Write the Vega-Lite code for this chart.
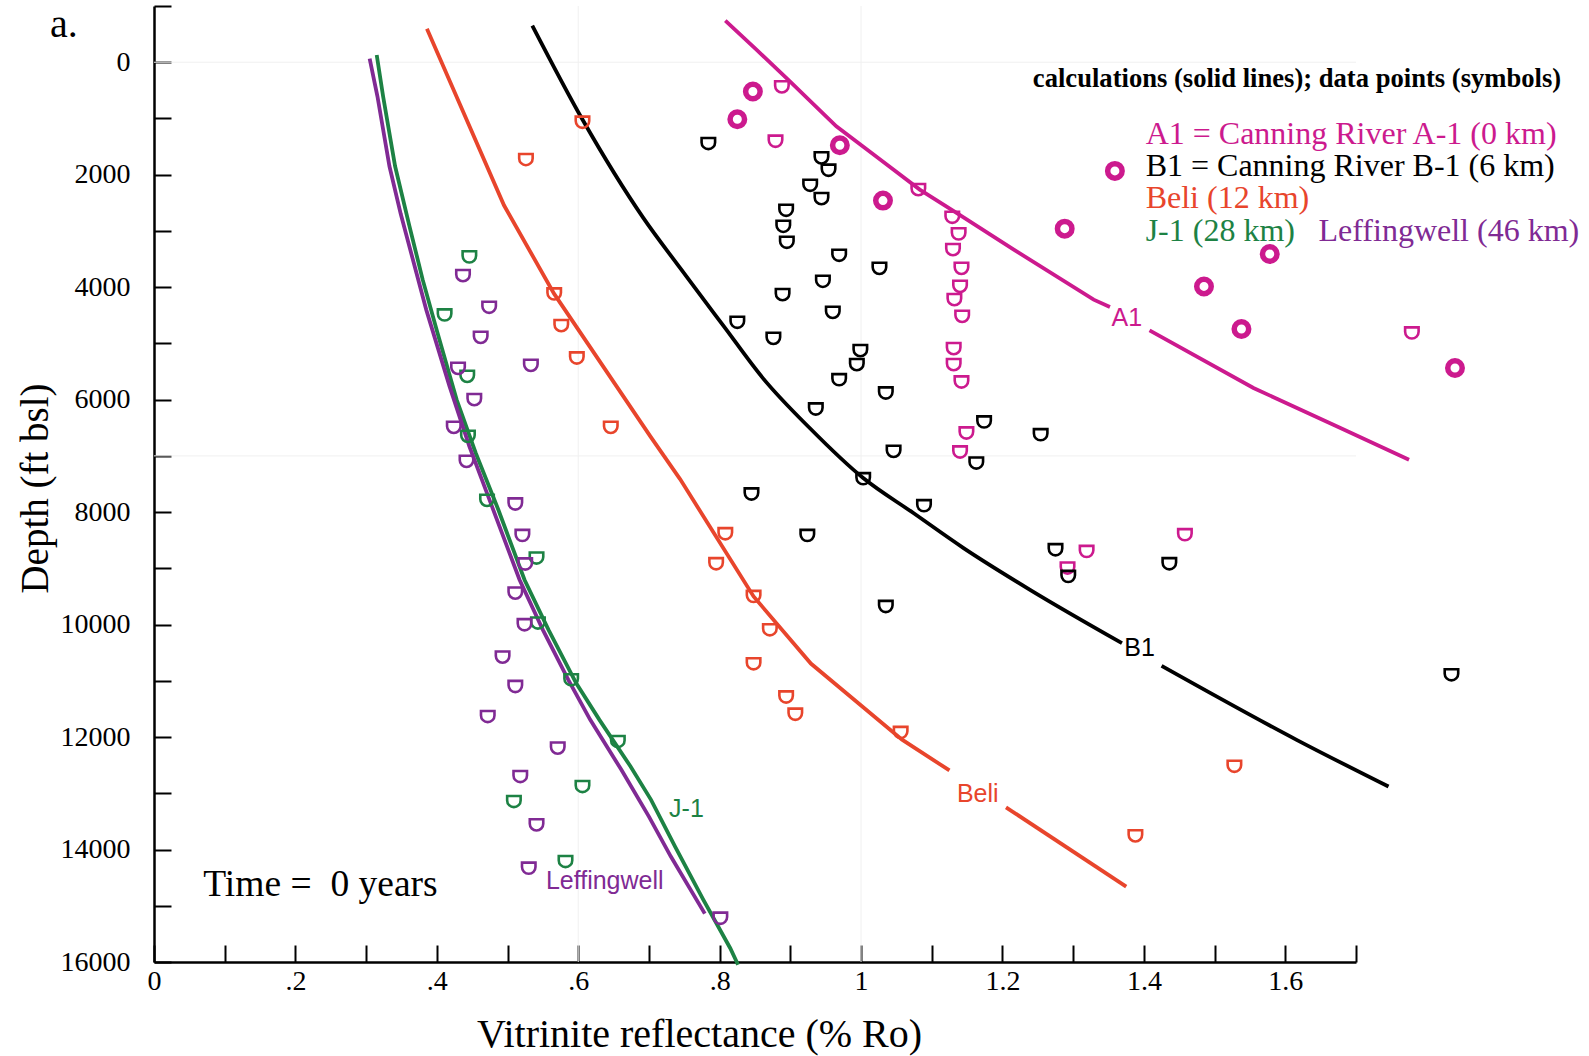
{
  "$schema": "https://vega.github.io/schema/vega-lite/v6.json",
  "width": 1202,
  "height": 956,
  "autosize": {"type": "none"},
  "padding": {"left": 154, "top": 6, "right": 233, "bottom": 94},
  "background": "white",
  "config": {"view": {"stroke": null}},
  "datasets": {
    "grid": [
      {"x": 0.6, "x2": 0.6, "d": -1000, "d2": 16000},
      {"x": 1.0, "x2": 1.0, "d": -1000, "d2": 16000},
      {"x": 0, "x2": 1.7, "d": 0, "d2": 0},
      {"x": 0, "x2": 1.7, "d": 7000, "d2": 7000}
    ],
    "lines": [
      {"s": "A1", "seg": "A1a", "x": 0.808, "d": -740},
      {"s": "A1", "seg": "A1a", "x": 0.852, "d": -226},
      {"s": "A1", "seg": "A1a", "x": 0.899, "d": 338},
      {"s": "A1", "seg": "A1a", "x": 0.965, "d": 1139},
      {"s": "A1", "seg": "A1a", "x": 1.027, "d": 1731},
      {"s": "A1", "seg": "A1a", "x": 1.083, "d": 2265},
      {"s": "A1", "seg": "A1a", "x": 1.135, "d": 2680},
      {"s": "A1", "seg": "A1a", "x": 1.216, "d": 3332},
      {"s": "A1", "seg": "A1a", "x": 1.329, "d": 4222},
      {"s": "A1", "seg": "A1a", "x": 1.352, "d": 4351},
      {"s": "A1", "seg": "A1b", "x": 1.408, "d": 4768},
      {"s": "A1", "seg": "A1b", "x": 1.555, "d": 5793},
      {"s": "A1", "seg": "A1b", "x": 1.678, "d": 6504},
      {"s": "A1", "seg": "A1b", "x": 1.775, "d": 7068},
      {"s": "B1", "seg": "B1a", "x": 0.535, "d": -653},
      {"s": "B1", "seg": "B1a", "x": 0.606, "d": 1019},
      {"s": "B1", "seg": "B1a", "x": 0.692, "d": 2768},
      {"s": "B1", "seg": "B1a", "x": 0.744, "d": 3658},
      {"s": "B1", "seg": "B1a", "x": 0.806, "d": 4697},
      {"s": "B1", "seg": "B1a", "x": 0.862, "d": 5630},
      {"s": "B1", "seg": "B1a", "x": 0.927, "d": 6500},
      {"s": "B1", "seg": "B1a", "x": 1.003, "d": 7394},
      {"s": "B1", "seg": "B1a", "x": 1.074, "d": 8016},
      {"s": "B1", "seg": "B1a", "x": 1.145, "d": 8639},
      {"s": "B1", "seg": "B1a", "x": 1.239, "d": 9381},
      {"s": "B1", "seg": "B1a", "x": 1.369, "d": 10329},
      {"s": "B1", "seg": "B1b", "x": 1.425, "d": 10733},
      {"s": "B1", "seg": "B1b", "x": 1.616, "d": 12049},
      {"s": "B1", "seg": "B1b", "x": 1.746, "d": 12880},
      {"s": "Beli", "seg": "Ba", "x": 0.386, "d": -594},
      {"s": "Beli", "seg": "Ba", "x": 0.495, "d": 2544},
      {"s": "Beli", "seg": "Ba", "x": 0.566, "d": 4120},
      {"s": "Beli", "seg": "Ba", "x": 0.702, "d": 6653},
      {"s": "Beli", "seg": "Ba", "x": 0.744, "d": 7412},
      {"s": "Beli", "seg": "Ba", "x": 0.848, "d": 9500},
      {"s": "Beli", "seg": "Ba", "x": 0.929, "d": 10693},
      {"s": "Beli", "seg": "Ba", "x": 1.058, "d": 12046},
      {"s": "Beli", "seg": "Ba", "x": 1.125, "d": 12594},
      {"s": "Beli", "seg": "Bb", "x": 1.205, "d": 13249},
      {"s": "Beli", "seg": "Bb", "x": 1.375, "d": 14660},
      {"s": "J-1", "seg": "J", "x": 0.315, "d": -128},
      {"s": "J-1", "seg": "J", "x": 0.324, "d": 605},
      {"s": "J-1", "seg": "J", "x": 0.341, "d": 1850},
      {"s": "J-1", "seg": "J", "x": 0.361, "d": 2900},
      {"s": "J-1", "seg": "J", "x": 0.380, "d": 3866},
      {"s": "J-1", "seg": "J", "x": 0.401, "d": 4814},
      {"s": "J-1", "seg": "J", "x": 0.428, "d": 6000},
      {"s": "J-1", "seg": "J", "x": 0.455, "d": 6949},
      {"s": "J-1", "seg": "J", "x": 0.487, "d": 7958},
      {"s": "J-1", "seg": "J", "x": 0.524, "d": 9203},
      {"s": "J-1", "seg": "J", "x": 0.558, "d": 10093},
      {"s": "J-1", "seg": "J", "x": 0.597, "d": 11040},
      {"s": "J-1", "seg": "J", "x": 0.630, "d": 11694},
      {"s": "J-1", "seg": "J", "x": 0.674, "d": 12524},
      {"s": "J-1", "seg": "J", "x": 0.703, "d": 13117},
      {"s": "J-1", "seg": "J", "x": 0.737, "d": 13947},
      {"s": "J-1", "seg": "J", "x": 0.777, "d": 14895},
      {"s": "J-1", "seg": "J", "x": 0.815, "d": 15755},
      {"s": "J-1", "seg": "J", "x": 0.826, "d": 16050},
      {"s": "Leffingwell", "seg": "L", "x": 0.305, "d": -66},
      {"s": "Leffingwell", "seg": "L", "x": 0.316, "d": 605},
      {"s": "Leffingwell", "seg": "L", "x": 0.333, "d": 1850},
      {"s": "Leffingwell", "seg": "L", "x": 0.349, "d": 2700},
      {"s": "Leffingwell", "seg": "L", "x": 0.385, "d": 4399},
      {"s": "Leffingwell", "seg": "L", "x": 0.418, "d": 5764},
      {"s": "Leffingwell", "seg": "L", "x": 0.446, "d": 6831},
      {"s": "Leffingwell", "seg": "L", "x": 0.478, "d": 7899},
      {"s": "Leffingwell", "seg": "L", "x": 0.517, "d": 9203},
      {"s": "Leffingwell", "seg": "L", "x": 0.550, "d": 10093},
      {"s": "Leffingwell", "seg": "L", "x": 0.586, "d": 10982},
      {"s": "Leffingwell", "seg": "L", "x": 0.617, "d": 11694},
      {"s": "Leffingwell", "seg": "L", "x": 0.661, "d": 12583},
      {"s": "Leffingwell", "seg": "L", "x": 0.700, "d": 13414},
      {"s": "Leffingwell", "seg": "L", "x": 0.731, "d": 14125},
      {"s": "Leffingwell", "seg": "L", "x": 0.779, "d": 15140}
    ],
    "dpoints": [
      {"s": "A1", "x": 0.888, "d": 438}, {"s": "A1", "x": 0.879, "d": 1405}, {"s": "A1", "x": 1.081, "d": 2265},
      {"s": "A1", "x": 1.129, "d": 2757}, {"s": "A1", "x": 1.138, "d": 3053}, {"s": "A1", "x": 1.130, "d": 3332},
      {"s": "A1", "x": 1.142, "d": 3665}, {"s": "A1", "x": 1.140, "d": 3985}, {"s": "A1", "x": 1.132, "d": 4222},
      {"s": "A1", "x": 1.143, "d": 4519}, {"s": "A1", "x": 1.131, "d": 5093}, {"s": "A1", "x": 1.131, "d": 5378},
      {"s": "A1", "x": 1.142, "d": 5686}, {"s": "A1", "x": 1.149, "d": 6593}, {"s": "A1", "x": 1.140, "d": 6931},
      {"s": "A1", "x": 1.319, "d": 8699}, {"s": "A1", "x": 1.292, "d": 8995}, {"s": "A1", "x": 1.458, "d": 8402},
      {"s": "A1", "x": 1.779, "d": 4814},
      {"s": "B1", "x": 0.784, "d": 1446}, {"s": "B1", "x": 0.944, "d": 1701}, {"s": "B1", "x": 0.954, "d": 1921},
      {"s": "B1", "x": 0.928, "d": 2188}, {"s": "B1", "x": 0.944, "d": 2425}, {"s": "B1", "x": 0.894, "d": 2633},
      {"s": "B1", "x": 0.890, "d": 2918}, {"s": "B1", "x": 0.895, "d": 3202}, {"s": "B1", "x": 0.969, "d": 3433},
      {"s": "B1", "x": 1.026, "d": 3665}, {"s": "B1", "x": 0.946, "d": 3896}, {"s": "B1", "x": 0.889, "d": 4133},
      {"s": "B1", "x": 0.960, "d": 4448}, {"s": "B1", "x": 0.825, "d": 4625}, {"s": "B1", "x": 0.876, "d": 4910},
      {"s": "B1", "x": 0.999, "d": 5129}, {"s": "B1", "x": 0.994, "d": 5378}, {"s": "B1", "x": 0.969, "d": 5645},
      {"s": "B1", "x": 1.035, "d": 5882}, {"s": "B1", "x": 0.936, "d": 6166}, {"s": "B1", "x": 1.174, "d": 6397},
      {"s": "B1", "x": 1.254, "d": 6623}, {"s": "B1", "x": 1.046, "d": 6920}, {"s": "B1", "x": 1.163, "d": 7127},
      {"s": "B1", "x": 1.003, "d": 7406}, {"s": "B1", "x": 0.845, "d": 7678}, {"s": "B1", "x": 1.089, "d": 7886},
      {"s": "B1", "x": 0.924, "d": 8415}, {"s": "B1", "x": 1.275, "d": 8669}, {"s": "B1", "x": 1.293, "d": 9144},
      {"s": "B1", "x": 1.436, "d": 8918}, {"s": "B1", "x": 1.035, "d": 9678}, {"s": "B1", "x": 1.835, "d": 10893},
      {"s": "Beli", "x": 0.606, "d": 1067}, {"s": "Beli", "x": 0.526, "d": 1731}, {"s": "Beli", "x": 0.566, "d": 4120},
      {"s": "Beli", "x": 0.576, "d": 4684}, {"s": "Beli", "x": 0.598, "d": 5259}, {"s": "Beli", "x": 0.646, "d": 6493},
      {"s": "Beli", "x": 0.808, "d": 8385}, {"s": "Beli", "x": 0.795, "d": 8918}, {"s": "Beli", "x": 0.848, "d": 9500},
      {"s": "Beli", "x": 0.871, "d": 10093}, {"s": "Beli", "x": 0.848, "d": 10697}, {"s": "Beli", "x": 0.894, "d": 11288},
      {"s": "Beli", "x": 0.907, "d": 11594}, {"s": "Beli", "x": 1.056, "d": 11919}, {"s": "Beli", "x": 1.528, "d": 12520},
      {"s": "Beli", "x": 1.388, "d": 13757},
      {"s": "J-1", "x": 0.446, "d": 3462}, {"s": "J-1", "x": 0.411, "d": 4494}, {"s": "J-1", "x": 0.443, "d": 5586},
      {"s": "J-1", "x": 0.444, "d": 6653}, {"s": "J-1", "x": 0.471, "d": 7792}, {"s": "J-1", "x": 0.541, "d": 8817},
      {"s": "J-1", "x": 0.543, "d": 9973}, {"s": "J-1", "x": 0.590, "d": 10982}, {"s": "J-1", "x": 0.656, "d": 12080},
      {"s": "J-1", "x": 0.606, "d": 12880}, {"s": "J-1", "x": 0.509, "d": 13147}, {"s": "J-1", "x": 0.582, "d": 14214},
      {"s": "Leffingwell", "x": 0.437, "d": 3795}, {"s": "Leffingwell", "x": 0.474, "d": 4358}, {"s": "Leffingwell", "x": 0.462, "d": 4892},
      {"s": "Leffingwell", "x": 0.430, "d": 5444}, {"s": "Leffingwell", "x": 0.533, "d": 5390}, {"s": "Leffingwell", "x": 0.453, "d": 6000},
      {"s": "Leffingwell", "x": 0.424, "d": 6493}, {"s": "Leffingwell", "x": 0.442, "d": 7098}, {"s": "Leffingwell", "x": 0.511, "d": 7856},
      {"s": "Leffingwell", "x": 0.521, "d": 8415}, {"s": "Leffingwell", "x": 0.525, "d": 8923}, {"s": "Leffingwell", "x": 0.511, "d": 9440},
      {"s": "Leffingwell", "x": 0.524, "d": 10003}, {"s": "Leffingwell", "x": 0.493, "d": 10578}, {"s": "Leffingwell", "x": 0.511, "d": 11101},
      {"s": "Leffingwell", "x": 0.472, "d": 11635}, {"s": "Leffingwell", "x": 0.571, "d": 12197}, {"s": "Leffingwell", "x": 0.518, "d": 12702},
      {"s": "Leffingwell", "x": 0.541, "d": 13561}, {"s": "Leffingwell", "x": 0.530, "d": 14332}, {"s": "Leffingwell", "x": 0.801, "d": 15222}
    ],
    "circles": [
      {"s": "A1", "x": 0.847, "d": 521}, {"s": "A1", "x": 0.825, "d": 1014}, {"s": "A1", "x": 0.970, "d": 1476},
      {"s": "A1", "x": 1.031, "d": 2460}, {"s": "A1", "x": 1.288, "d": 2959}, {"s": "A1", "x": 1.359, "d": 1932},
      {"s": "A1", "x": 1.485, "d": 3987}, {"s": "A1", "x": 1.578, "d": 3410}, {"s": "A1", "x": 1.538, "d": 4743},
      {"s": "A1", "x": 1.840, "d": 5437}
    ],
    "legend": [
      {"t": "A1 = Canning River A-1 (0 km)", "s": "A1", "x": 1.4025, "d": 1461},
      {"t": "B1 = Canning River B-1 (6 km)", "s": "B1", "x": 1.4025, "d": 2030},
      {"t": "Beli (12 km)", "s": "Beli", "x": 1.4025, "d": 2597},
      {"t": "J-1 (28 km)", "s": "J-1", "x": 1.4025, "d": 3184},
      {"t": "Leffingwell (46 km)", "s": "Leffingwell", "x": 1.647, "d": 3184}
    ],
    "labels": [
      {"t": "A1", "s": "A1", "x": 1.376, "d": 4684},
      {"t": "B1", "s": "B1", "x": 1.394, "d": 10555},
      {"t": "Beli", "s": "Beli", "x": 1.165, "d": 13163},
      {"t": "J-1", "s": "J-1", "x": 0.753, "d": 13424},
      {"t": "Leffingwell", "s": "Leffingwell", "x": 0.6375, "d": 14706}
    ]
  },
  "encoding": {
    "x": {
      "field": "x", "type": "quantitative",
      "scale": {"domain": [0, 1.7], "nice": false, "zero": false},
      "axis": {
        "values": [0, 0.1, 0.2, 0.3, 0.4, 0.5, 0.6, 0.7, 0.8, 0.9, 1.0, 1.1, 1.2, 1.3, 1.4, 1.5, 1.6, 1.7],
        "labelExpr": "round(datum.value*10) % 2 == 0 ? replace(format(datum.value, '~g'), '0.', '.') : ''",
        "labelFont": "Liberation Serif", "labelFontSize": 28, "labelColor": "black",
        "labelPadding": 22, "labelOverlap": false, "labelFlush": false,
        "tickSize": -17, "tickWidth": 2, "tickColor": "black",
        "domainColor": "black", "domainWidth": 2.5, "grid": false,
        "title": "Vitrinite reflectance (% Ro)",
        "titleFont": "Liberation Serif", "titleFontSize": 40, "titleFontWeight": "normal", "titleColor": "black",
        "titleX": 545, "titleY": 84, "titleBaseline": "alphabetic", "titleAlign": "center"
      }
    },
    "y": {
      "field": "d", "type": "quantitative",
      "scale": {"domain": [-1000, 16000], "reverse": true, "nice": false, "zero": false},
      "axis": {
        "values": [-1000, 0, 1000, 2000, 3000, 4000, 5000, 6000, 7000, 8000, 9000, 10000, 11000, 12000, 13000, 14000, 15000, 16000],
        "labelExpr": "datum.value >= 0 && datum.value % 2000 == 0 ? '' + datum.value : ''",
        "labelFont": "Liberation Serif", "labelFontSize": 28, "labelColor": "black",
        "labelPadding": 41, "labelOverlap": false, "labelFlush": false, "labelBaseline": "middle",
        "tickSize": -17, "tickWidth": 2, "tickColor": "black",
        "domainColor": "black", "domainWidth": 2.5, "grid": false,
        "title": "Depth (ft bsl)",
        "titleFont": "Liberation Serif", "titleFontSize": 39, "titleFontWeight": "normal", "titleColor": "black",
        "titleAngle": 270, "titleX": -107, "titleY": 482, "titleBaseline": "alphabetic", "titleAlign": "center"
      }
    }
  },
  "layer": [
    {
      "data": {"name": "grid"},
      "mark": {"type": "rule", "color": "#f0f0f0", "strokeWidth": 1},
      "encoding": {"x2": {"field": "x2"}, "y2": {"field": "d2"}}
    },
    {
      "data": {"name": "lines"},
      "transform": [{"filter": "datum.s != 'B1'"}],
      "mark": {"type": "line", "strokeWidth": 3.8, "strokeCap": "butt"},
      "encoding": {
        "color": {"field": "s", "type": "nominal", "legend": null,
          "scale": {"domain": ["A1", "B1", "Beli", "J-1", "Leffingwell"], "range": ["#cc1a8e", "#000000", "#e8452c", "#1d8244", "#802a94"]}},
        "detail": {"field": "seg"},
        "order": {"field": "d", "type": "quantitative"}
      }
    },
    {
      "data": {"name": "lines"},
      "transform": [{"filter": "datum.s == 'B1'"}],
      "mark": {"type": "line", "strokeWidth": 3.8, "strokeCap": "butt", "interpolate": "monotone"},
      "encoding": {
        "color": {"field": "s", "type": "nominal", "legend": null},
        "detail": {"field": "seg"},
        "order": {"field": "d", "type": "quantitative"}
      }
    },
    {
      "data": {"name": "dpoints"},
      "mark": {"type": "point", "shape": "M-1,-0.83L1,-0.83L1,-0.17A1,1,0,0,1,-1,-0.17Z", "filled": false, "size": 182, "strokeWidth": 2.6, "opacity": 1},
      "encoding": {"color": {"field": "s", "type": "nominal", "legend": null}}
    },
    {
      "data": {"name": "circles"},
      "mark": {"type": "point", "shape": "circle", "filled": false, "size": 210, "strokeWidth": 5.5, "opacity": 1},
      "encoding": {"color": {"field": "s", "type": "nominal", "legend": null}}
    },
    {
      "data": {"name": "legend"},
      "mark": {"type": "text", "font": "Liberation Serif", "fontSize": 32, "align": "left", "baseline": "alphabetic"},
      "encoding": {"text": {"field": "t"}, "color": {"field": "s", "type": "nominal", "legend": null}}
    },
    {
      "data": {"name": "labels"},
      "mark": {"type": "text", "font": "Liberation Sans", "fontSize": 25, "align": "center", "baseline": "alphabetic"},
      "encoding": {"text": {"field": "t"}, "color": {"field": "s", "type": "nominal", "legend": null}}
    },
    {
      "data": {"values": [{"t": "calculations (solid lines); data points (symbols)", "x": 1.243, "d": 441}]},
      "mark": {"type": "text", "font": "Liberation Serif", "fontSize": 26.6, "fontWeight": "bold", "align": "left", "baseline": "alphabetic", "color": "black"},
      "encoding": {"text": {"field": "t"}}
    },
    {
      "data": {"values": [{"t": "Time =\u00a0 0 years", "x": 0.0697, "d": 14819}]},
      "mark": {"type": "text", "font": "Liberation Serif", "fontSize": 37.5, "align": "left", "baseline": "alphabetic", "color": "black"},
      "encoding": {"text": {"field": "t"}}
    },
    {
      "data": {"values": [{"t": "a.", "x": -0.147, "d": -440}]},
      "mark": {"type": "text", "font": "Liberation Serif", "fontSize": 40, "align": "left", "baseline": "alphabetic", "color": "black"},
      "encoding": {"text": {"field": "t"}}
    }
  ]
}
